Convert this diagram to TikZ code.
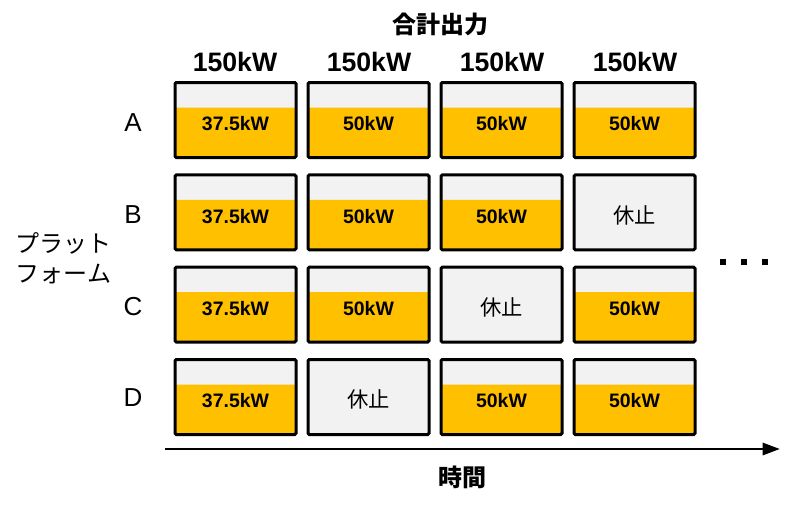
\documentclass[tikz,border=0pt]{standalone}
\usepackage{fontspec}
\setmainfont{Liberation Sans}
\newfontfamily\jpfont{Noto Sans CJK JP}
\usepackage{tikz}
\usetikzlibrary{matrix, positioning, arrows.meta}
\definecolor{onyellow}{HTML}{FFC000}
\definecolor{offgrey}{HTML}{F2F2F2}

\tikzset{
  slot/.style={draw=black, line width=2.25pt, rounded corners=1pt, fill=offgrey,
    minimum width=90.75pt, minimum height=56.25pt, inner sep=0pt,
    text height=16pt, text depth=0pt},
  onslot/.style={slot, font=\bfseries\fontsize{14.6}{16}\selectfont,
    path picture={\fill[onyellow] (path picture bounding box.south west)
      rectangle ([yshift=37.5pt]path picture bounding box.south east);}},
  offslot/.style={slot, path picture={}, font=\jpfont\fontsize{16}{18}\selectfont},
  total/.style={font=\bfseries\fontsize{20}{22}\selectfont},
  rowname/.style={font=\fontsize{19.5}{22}\selectfont},
  jplabel/.style={font=\jpfont\fontsize{18}{22.5}\selectfont},
  jpbold/.style={font=\jpfont\bfseries\fontsize{18}{22}\selectfont},
}

\begin{document}
\begin{tikzpicture}[x=0.75pt, y=-0.75pt]
\useasboundingbox (0,0) rectangle (800,504);
%
\matrix (grid) [matrix of nodes, nodes={onslot},
         column sep={99.75pt,between origins},
         row sep={69.25pt,between origins}] at (435,258.5)
{
|(a1)| 37.5kW & |(a2)| 50kW & |(a3)| 50kW & |(a4)| 50kW \\
|(b1)| 37.5kW & |(b2)| 50kW & |(b3)| 50kW & |[offslot](b4)| 休止 \\
|(c1)| 37.5kW & |(c2)| 50kW & |[offslot](c3)| 休止 & |(c4)| 50kW \\
|(d1)| 37.5kW & |[offslot](d2)| 休止 & |(d3)| 50kW & |(d4)| 50kW \\
};

\node[jpbold] (title) at (440,24) {合計出力};
\node[total] (t1) at (235,62) {150kW};
\node[total] (t2) at (369,62) {150kW};
\node[total] (t3) at (502,62) {150kW};
\node[total] (t4) at (635,62) {150kW};

\node[rowname] (ra) at (133,123) {A};
\node[rowname] (rb) at (133,215) {B};
\node[rowname] (rc) at (133,307) {C};
\node[rowname] (rd) at (133,398) {D};
\node[jplabel, align=left] (platform) at (64,258) {プラット\\フォーム};

% more time slots
\foreach \x in {723,744,765}
  \fill (\x-3,259) rectangle (\x+3,265);

\coordinate (tstart) at (165,449);
\coordinate (tend) at (780,449);
\draw[line width=2.2pt, -{Triangle[length=13pt,width=9pt]}] (tstart) -- (tend);
\node[jpbold] (time) at (462,477) {時間};
%
\end{tikzpicture}
\end{document}
